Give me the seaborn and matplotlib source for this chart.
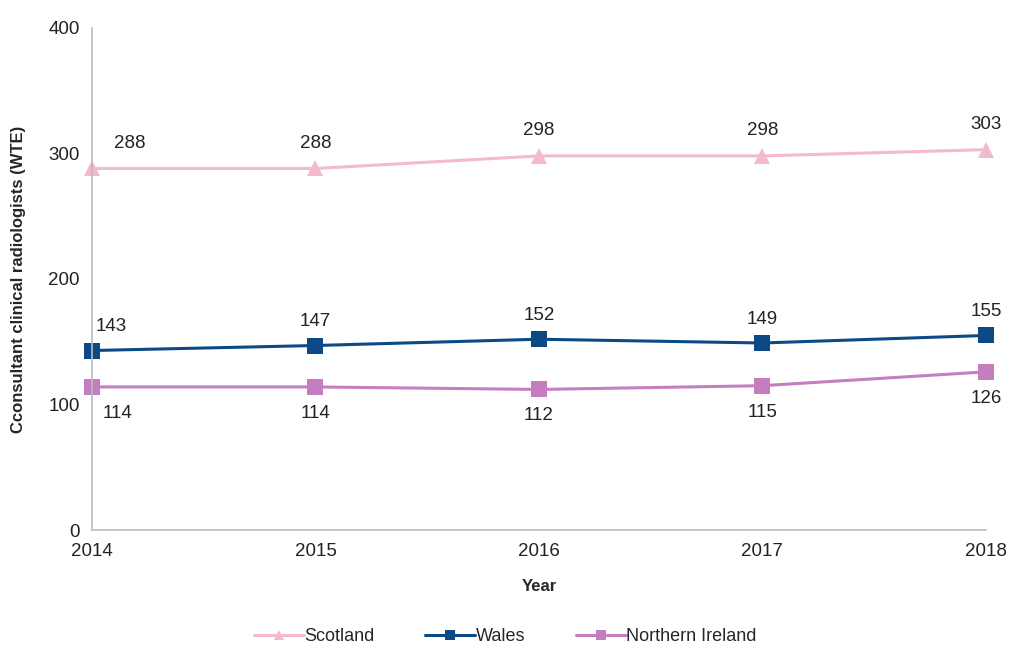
import matplotlib
matplotlib.use("Agg")
import matplotlib.pyplot as plt
import seaborn as sns
import pandas as pd

years = [2014, 2015, 2016, 2017, 2018]
scotland = [288, 288, 298, 298, 303]
wales = [143, 147, 152, 149, 155]
northern_ireland = [114, 114, 112, 115, 126]

regions = ["Scotland", "Wales", "Northern Ireland"]
colors = {"Scotland": "#F2B9CF", "Wales": "#0C4A85", "Northern Ireland": "#C47EC0"}
markers = {"Scotland": "^", "Wales": "s", "Northern Ireland": "s"}

df = pd.DataFrame({
    "Year": years * 3,
    "Value": scotland + wales + northern_ireland,
    "Region": ["Scotland"] * 5 + ["Wales"] * 5 + ["Northern Ireland"] * 5,
})

sns.set_style("white")
plt.rcParams["font.family"] = ["Liberation Sans", "DejaVu Sans"]

fig = plt.figure(figsize=(10.1, 6.48), dpi=100)
ax = fig.add_axes([0.0911, 0.182, 0.885, 0.775])

sns.lineplot(data=df, x="Year", y="Value", hue="Region", style="Region",
             hue_order=regions, style_order=regions, palette=colors,
             markers=markers, dashes=False, linewidth=2.2, markersize=11,
             markeredgewidth=0, ax=ax, legend=False)
for line in ax.lines:
    line.set_clip_on(False)

ax.set_xlim(2014, 2018)
ax.set_ylim(0, 400)
ax.set_xticks(years)
ax.set_yticks([0, 100, 200, 300, 400])
ax.tick_params(axis="both", labelsize=13.5, colors="#222222", length=5,
               width=1, direction="out", pad=4)
ax.tick_params(axis="both", color="#BBBBBB")
for side in ["top", "right"]:
    ax.spines[side].set_visible(False)
for side in ["left", "bottom"]:
    ax.spines[side].set_color("#BBBBBB")
    ax.spines[side].set_linewidth(1.2)

ax.set_xlabel("Year", fontsize=12, fontweight="bold", labelpad=14)
ax.set_ylabel("Cconsultant clinical radiologists (WTE)", fontsize=12,
              fontweight="bold", labelpad=16)

# value labels: Scotland and Wales above, Northern Ireland below
def annotate(series, dy, first_dx):
    for i, (x, v) in enumerate(zip(years, series)):
        dx = first_dx if i == 0 else 0
        ax.annotate(str(v), (x, v), xytext=(dx, dy), textcoords="offset points",
                    ha="center", va="center", fontsize=13.5, color="#222222")

annotate(scotland, 18, 27)
annotate(wales, 17, 14)
annotate(northern_ireland, -19, 18)

handles = [plt.Line2D([0], [0], color=colors[r], marker=markers[r],
                      markersize=7, linewidth=2.2, markeredgewidth=0)
           for r in regions]
fig.legend(handles, regions, loc="center", bbox_to_anchor=(0.5, 0.018),
           ncol=3, frameon=False, fontsize=13, handlelength=2.8,
           handletextpad=0.0, columnspacing=2.8)

fig.savefig("out.png", dpi=100)
